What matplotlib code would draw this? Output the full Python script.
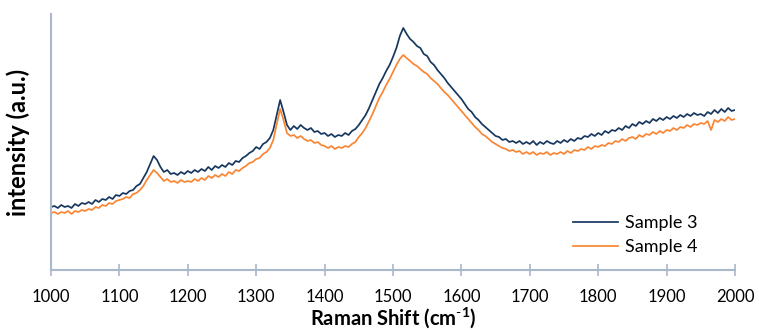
import numpy as np
import matplotlib
matplotlib.use("Agg")
import matplotlib.pyplot as plt

plt.rcParams['font.family'] = ['Lato', 'DejaVu Sans']
plt.rcParams['mathtext.fontset'] = 'custom'
plt.rcParams['mathtext.rm'] = 'Lato'
plt.rcParams['mathtext.bf'] = 'Lato:bold'

shift_start, shift_stop, shift_step = 1000, 2000, 5

sample3 = [
    63, 64, 62, 65, 63, 64, 62, 66, 64, 67,
    66, 68, 66, 70, 68, 71, 70, 73, 71, 75,
    74, 77, 76, 79, 80, 84, 86, 92, 98, 106,
    114, 110, 103, 98, 100, 96, 97, 95, 98, 96,
    99, 97, 100, 98, 101, 99, 103, 100, 104, 102,
    105, 103, 107, 105, 109, 108, 112, 114, 117, 119,
    123, 121, 126, 128, 132, 140, 155, 170, 158, 145,
    140, 144, 141, 145, 142, 140, 142, 138, 139, 136,
    137, 134, 136, 133, 135, 134, 137, 135, 139, 141,
    145, 150, 155, 162, 170, 178, 186, 192, 199, 205,
    213, 222, 234, 242, 236, 231, 228, 224, 222, 216,
    214, 208, 205, 200, 196, 192, 187, 183, 179, 175,
    171, 166, 161, 158, 153, 150, 146, 143, 140, 137,
    134, 133, 130, 131, 128, 129, 127, 129, 126, 128,
    126, 129, 125, 128, 126, 129, 127, 126, 129, 127,
    130, 128, 131, 129, 132, 131, 134, 133, 136, 134,
    137, 135, 139, 137, 140, 139, 142, 140, 144, 142,
    146, 144, 148, 146, 149, 147, 151, 149, 152, 150,
    153, 151, 154, 152, 155, 153, 156, 154, 157, 155,
    156, 154, 158, 156, 160, 157, 161, 158, 162, 159,
    160,
]

sample4 = [
    57, 58, 56, 58, 57, 59, 56, 59, 58, 60,
    59, 61, 60, 63, 62, 65, 64, 67, 66, 69,
    70, 71, 73, 72, 76, 77, 80, 84, 90, 95,
    100, 97, 93, 89, 91, 88, 89, 87, 90, 88,
    89, 88, 91, 89, 92, 90, 94, 92, 95, 93,
    96, 94, 98, 96, 100, 99, 102, 104, 107, 108,
    111, 112, 116, 118, 122, 130, 146, 161, 150, 137,
    134, 135, 132, 134, 131, 129, 130, 127, 128, 125,
    124, 122, 124, 121, 123, 122, 124, 123, 126, 128,
    133, 137, 142, 149, 156, 164, 172, 178, 185, 191,
    198, 205, 211, 215, 212, 209, 206, 204, 201, 198,
    196, 192, 189, 186, 182, 178, 175, 171, 167, 163,
    159, 155, 151, 147, 143, 140, 136, 134, 131, 128,
    126, 124, 122, 121, 119, 120, 118, 119, 116, 118,
    116, 118, 115, 117, 116, 118, 115, 117, 116, 118,
    116, 119, 117, 120, 119, 121, 120, 123, 121, 124,
    123, 125, 124, 127, 126, 129, 128, 131, 129, 132,
    133, 131, 135, 133, 136, 135, 138, 136, 139, 137,
    140, 139, 142, 140, 143, 142, 145, 143, 146, 145,
    147, 146, 149, 140, 150, 148, 151, 149, 153, 150,
    151,
]

series_names = ["Sample 3", "Sample 4"]
series_colors = ["#17375E", "#FA8532"]
x_ticks = list(range(1000, 2001, 100))

raman_shift = np.arange(shift_start, shift_stop + 1, shift_step)
assert len(raman_shift) == len(sample3) == len(sample4), (len(raman_shift), len(sample3), len(sample4))

fig = plt.figure(figsize=(7.59, 3.30), dpi=100)
ax = fig.add_axes([51 / 759, 60 / 330, (735 - 51) / 759, (270 - 14) / 330])

for vals, name, col in zip([sample3, sample4], series_names, series_colors):
    ax.plot(raman_shift, vals, color=col, lw=1.25, label=name)

ax.set_xlim(1000, 2000)
ax.set_ylim(0, 256)
ax.set_xticks(x_ticks)
ax.set_xticklabels([str(t) for t in x_ticks], fontsize=12)
ax.set_yticks([])

spine_col = "#A9B8CB"
for s in ["top", "right"]:
    ax.spines[s].set_visible(False)
for s in ["left", "bottom"]:
    ax.spines[s].set_color(spine_col)
    ax.spines[s].set_linewidth(1.5)
ax.tick_params(axis='x', direction='inout', length=9, width=1.2, color=spine_col, pad=9)

ax.set_xlabel(r"Raman Shift (cm$^{\mathbf{\text{-}1}}$)", fontsize=14.5, fontweight='bold', labelpad=0)
fig.text(18 / 759, 1 - 142 / 330, "intensity (a.u.)", rotation=90, fontsize=17,
         fontweight='bold', ha='center', va='center')

leg = ax.legend(loc='lower right', bbox_to_anchor=(697 / 759, 75 / 330), bbox_transform=fig.transFigure,
                frameon=False, fontsize=13, handlelength=2.5, handletextpad=0.35, labelspacing=0.42,
                borderaxespad=0, borderpad=0)

fig.savefig("out.png", dpi=100)
